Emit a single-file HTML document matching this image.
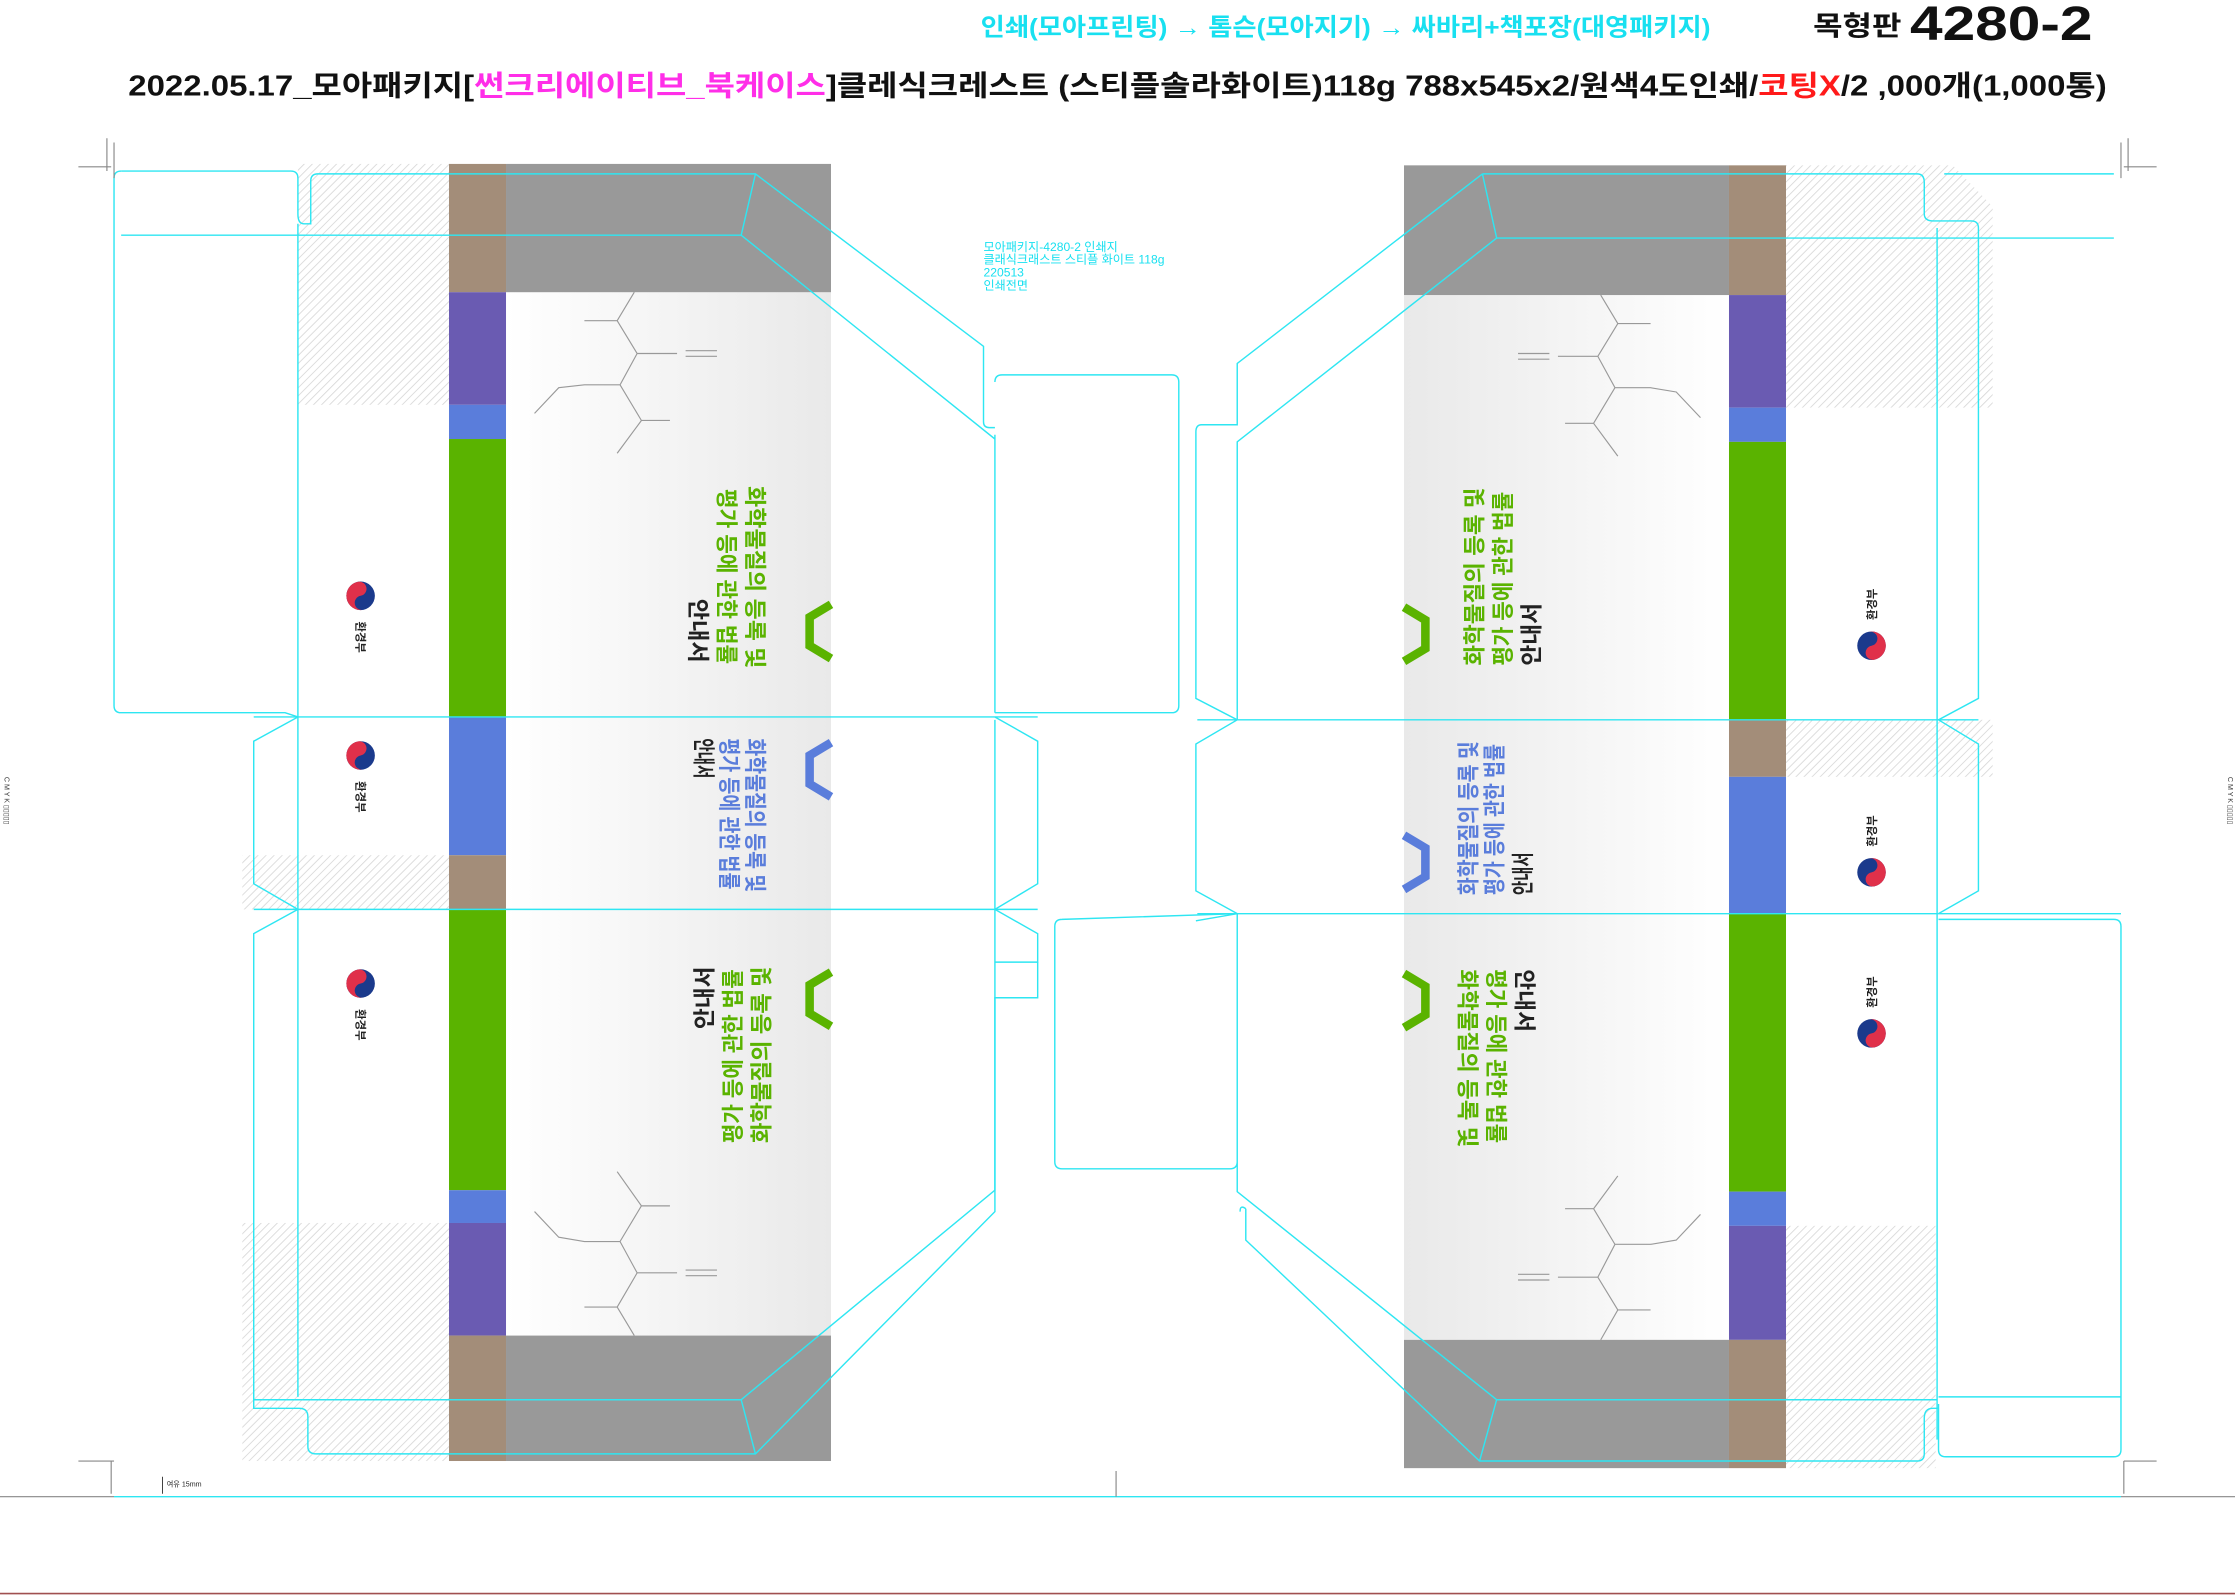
<!DOCTYPE html>
<html><head><meta charset="utf-8"><style>
html,body{margin:0;padding:0;background:#fff;}
svg{display:block;}
text{font-family:"Liberation Sans","Noto Sans CJK KR",sans-serif;}
</style></head><body>
<svg width="2235" height="1596" viewBox="0 0 1568 1119.7" preserveAspectRatio="none" xmlns="http://www.w3.org/2000/svg">
<defs>
<pattern id="h" width="4" height="4" patternUnits="userSpaceOnUse" patternTransform="rotate(45)">
<rect width="4" height="4" fill="#fff"/><line x1="0" y1="0" x2="0" y2="4" stroke="#d8d8d8" stroke-width="1.2"/></pattern>
<linearGradient id="gl" x1="0" x2="1"><stop offset="0" stop-color="#fff"/><stop offset="1" stop-color="#e9e9e9"/></linearGradient>
<linearGradient id="gr" x1="1" x2="0"><stop offset="0" stop-color="#fff"/><stop offset="1" stop-color="#e9e9e9"/></linearGradient>
</defs>
<rect width="1568" height="1120" fill="#fff"/>

<!-- header -->
<text x="688" y="25" font-size="17" font-weight="bold" fill="#18e0f0" textLength="512" lengthAdjust="spacingAndGlyphs">인쇄(모아프린팅) → 톰슨(모아지기) → 싸바리+책포장(대영패키지)</text>
<text x="1272" y="25" font-size="19" font-weight="bold" fill="#111" textLength="62" lengthAdjust="spacingAndGlyphs">목형판</text>
<text x="1340" y="28" font-size="34" font-weight="bold" fill="#111" textLength="128" lengthAdjust="spacingAndGlyphs">4280-2</text>
<text x="90" y="67" font-size="20" font-weight="bold" fill="#111" textLength="1388" lengthAdjust="spacingAndGlyphs">2022.05.17_모아패키지[<tspan fill="#ff2ee8">썬크리에이티브_북케이스</tspan>]클레식크레스트 (스티플솔라화이트)118g 788x545x2/원색4도인쇄/<tspan fill="#ff1a1a">코팅X</tspan>/2 ,000개(1,000통)</text>

<text font-size="8.5" fill="#18e0f0"><tspan x="690" y="176">모아패키지-4280-2      인쇄지</tspan><tspan x="690" y="185">클래식크래스트 스티플 화이트 118g</tspan><tspan x="690" y="194">220513</tspan><tspan x="690" y="203">인쇄전면</tspan></text>

<!-- hatch areas -->
<rect x="209" y="115" width="106" height="169" fill="url(#h)"/>
<rect x="170" y="600" width="145" height="38" fill="url(#h)"/>
<rect x="170" y="858" width="145" height="167" fill="url(#h)"/>
<polygon points="1253,116 1370,116 1398,145 1398,286 1253,286" fill="url(#h)"/>
<rect x="1253" y="505" width="145" height="40" fill="url(#h)"/>
<rect x="1253" y="860" width="105" height="170" fill="url(#h)"/>

<!-- left panel -->
<rect x="355" y="205" width="228" height="732" fill="url(#gl)"/>
<rect x="355" y="115" width="228" height="90" fill="#999"/>
<rect x="355" y="937" width="228" height="88" fill="#999"/>
<rect x="315" y="115" width="40" height="90" fill="#a38d79"/>
<rect x="315" y="205" width="40" height="79" fill="#6a5bb2"/>
<rect x="315" y="284" width="40" height="24" fill="#5a7ddb"/>
<rect x="315" y="308" width="40" height="195" fill="#5ab300"/>
<rect x="315" y="503" width="40" height="97" fill="#5a7ddb"/>
<rect x="315" y="600" width="40" height="38" fill="#a38d79"/>
<rect x="315" y="638" width="40" height="197" fill="#5ab300"/>
<rect x="315" y="835" width="40" height="23" fill="#5a7ddb"/>
<rect x="315" y="858" width="40" height="79" fill="#6a5bb2"/>
<rect x="315" y="937" width="40" height="88" fill="#a38d79"/>

<!-- right panel -->
<rect x="985" y="207" width="228" height="733" fill="url(#gr)"/>
<rect x="985" y="116" width="228" height="91" fill="#999"/>
<rect x="985" y="940" width="228" height="90" fill="#999"/>
<rect x="1213" y="116" width="40" height="91" fill="#a38d79"/>
<rect x="1213" y="207" width="40" height="79" fill="#6a5bb2"/>
<rect x="1213" y="286" width="40" height="24" fill="#5a7ddb"/>
<rect x="1213" y="310" width="40" height="195" fill="#5ab300"/>
<rect x="1213" y="505" width="40" height="40" fill="#a38d79"/>
<rect x="1213" y="545" width="40" height="96" fill="#5a7ddb"/>
<rect x="1213" y="641" width="40" height="195" fill="#5ab300"/>
<rect x="1213" y="836" width="40" height="24" fill="#5a7ddb"/>
<rect x="1213" y="860" width="40" height="80" fill="#6a5bb2"/>
<rect x="1213" y="940" width="40" height="90" fill="#a38d79"/>

<!-- molecules -->
<g stroke="#999" stroke-width="0.8" fill="none">
<path d="M445,205 L433,225 L410,225 M433,225 L447,248 L475,248 M481,246 L503,246 M481,250 L503,250 M447,248 L435,270 L410,270 L392,272 L375,290 M435,270 L450,295 L470,295 M450,295 L433,318"/>
<path d="M445,937 L433,917 L410,917 M433,917 L447,893 L475,893 M481,891 L503,891 M481,895 L503,895 M447,893 L435,871 L410,871 L392,868 L375,850 M435,871 L450,846 L470,846 M450,846 L433,822"/>
<path d="M1123,207 L1135,227 L1158,227 M1135,227 L1121,250 L1093,250 M1087,248 L1065,248 M1087,252 L1065,252 M1121,250 L1133,272 L1158,272 L1176,275 L1193,293 M1133,272 L1118,297 L1098,297 M1118,297 L1135,320"/>
<path d="M1123,940 L1135,919 L1158,919 M1135,919 L1121,896 L1093,896 M1087,894 L1065,894 M1087,898 L1065,898 M1121,896 L1133,873 L1158,873 L1176,870 L1193,852 M1133,873 L1118,848 L1098,848 M1118,848 L1135,825"/>
</g>

<!-- chevrons -->
<g fill="none" stroke-width="6" stroke-linejoin="miter">
<polyline points="583,424 568,433 568,453 583,462" stroke="#5ab300"/>
<polyline points="583,521 568,530 568,550 583,559" stroke="#5a7ddb"/>
<polyline points="583,682 568,691 568,711 583,720" stroke="#5ab300"/>
<polyline points="985,426 1000,435 1000,455 985,464" stroke="#5ab300"/>
<polyline points="985,586 1000,595 1000,615 985,624" stroke="#5a7ddb"/>
<polyline points="985,683 1000,692 1000,712 985,721" stroke="#5ab300"/>
</g>

<!-- titles left -->
<g font-weight="bold" font-size="16">
<text transform="translate(524,341) rotate(90)" fill="#5ab300" textLength="128" lengthAdjust="spacingAndGlyphs">화학물질의 등록 및</text>
<text transform="translate(504,343) rotate(90)" fill="#5ab300" textLength="123" lengthAdjust="spacingAndGlyphs">평가 등에 관한 법률</text>
<text transform="translate(484,420) rotate(90)" fill="#222" textLength="45" lengthAdjust="spacingAndGlyphs">안내서</text>

<text transform="translate(524,518) rotate(90)" fill="#5a7ddb" textLength="108" lengthAdjust="spacingAndGlyphs">화학물질의 등록 및</text>
<text transform="translate(506,518) rotate(90)" fill="#5a7ddb" textLength="106" lengthAdjust="spacingAndGlyphs">평가 등에 관한 법률</text>
<text transform="translate(488,518) rotate(90)" fill="#222" textLength="28" lengthAdjust="spacingAndGlyphs">안내서</text>

<text transform="translate(540,802) rotate(-90)" fill="#5ab300" textLength="124" lengthAdjust="spacingAndGlyphs">화학물질의 등록 및</text>
<text transform="translate(520,802) rotate(-90)" fill="#5ab300" textLength="122" lengthAdjust="spacingAndGlyphs">평가 등에 관한 법률</text>
<text transform="translate(500,722) rotate(-90)" fill="#222" textLength="44" lengthAdjust="spacingAndGlyphs">안내서</text>

<!-- titles right -->
<text transform="translate(1040,467) rotate(-90)" fill="#5ab300" textLength="125" lengthAdjust="spacingAndGlyphs">화학물질의 등록 및</text>
<text transform="translate(1060,467) rotate(-90)" fill="#5ab300" textLength="122" lengthAdjust="spacingAndGlyphs">평가 등에 관한 법률</text>
<text transform="translate(1080,467) rotate(-90)" fill="#222" textLength="44" lengthAdjust="spacingAndGlyphs">안내서</text>

<text transform="translate(1036,628) rotate(-90)" fill="#5a7ddb" textLength="108" lengthAdjust="spacingAndGlyphs">화학물질의 등록 및</text>
<text transform="translate(1054,628) rotate(-90)" fill="#5a7ddb" textLength="106" lengthAdjust="spacingAndGlyphs">평가 등에 관한 법률</text>
<text transform="translate(1074,628) rotate(-90)" fill="#222" textLength="30" lengthAdjust="spacingAndGlyphs">안내서</text>

<text transform="translate(1024,680) rotate(90)" fill="#5ab300" textLength="125" lengthAdjust="spacingAndGlyphs">화학물질의 등록 및</text>
<text transform="translate(1044,680) rotate(90)" fill="#5ab300" textLength="122" lengthAdjust="spacingAndGlyphs">평가 등에 관한 법률</text>
<text transform="translate(1064,680) rotate(90)" fill="#222" textLength="44" lengthAdjust="spacingAndGlyphs">안내서</text>
</g>

<!-- logos -->
<g>
<g transform="translate(253,418)"><circle r="10" fill="#1b3a8c"/><path d="M-10,0 A10,10 0 0 1 10,0 A5,5 0 0 1 0,0 A5,5 0 0 0 -10,0Z" fill="#e0304a" transform="rotate(-100)"/><circle r="4" cx="0" cy="0" fill="#fff" opacity="0.0"/></g>
<g transform="translate(253,530)"><circle r="10" fill="#1b3a8c"/><path d="M-10,0 A10,10 0 0 1 10,0 A5,5 0 0 1 0,0 A5,5 0 0 0 -10,0Z" fill="#e0304a" transform="rotate(-100)"/></g>
<g transform="translate(253,690)"><circle r="10" fill="#1b3a8c"/><path d="M-10,0 A10,10 0 0 1 10,0 A5,5 0 0 1 0,0 A5,5 0 0 0 -10,0Z" fill="#e0304a" transform="rotate(-100)"/></g>
<g transform="translate(1313,453)"><circle r="10" fill="#1b3a8c"/><path d="M-10,0 A10,10 0 0 1 10,0 A5,5 0 0 1 0,0 A5,5 0 0 0 -10,0Z" fill="#e0304a" transform="rotate(80)"/></g>
<g transform="translate(1313,612)"><circle r="10" fill="#1b3a8c"/><path d="M-10,0 A10,10 0 0 1 10,0 A5,5 0 0 1 0,0 A5,5 0 0 0 -10,0Z" fill="#e0304a" transform="rotate(80)"/></g>
<g transform="translate(1313,725)"><circle r="10" fill="#1b3a8c"/><path d="M-10,0 A10,10 0 0 1 10,0 A5,5 0 0 1 0,0 A5,5 0 0 0 -10,0Z" fill="#e0304a" transform="rotate(80)"/></g>
<g font-size="8" font-weight="bold" fill="#222">
<text transform="translate(250,436) rotate(90)">환경부</text>
<text transform="translate(250,548) rotate(90)">환경부</text>
<text transform="translate(250,708) rotate(90)">환경부</text>
<text transform="translate(1316,435) rotate(-90)">환경부</text>
<text transform="translate(1316,594) rotate(-90)">환경부</text>
<text transform="translate(1316,707) rotate(-90)">환경부</text>
</g>
</g>

<!-- cut lines -->
<g fill="none" stroke="#2ee6f2" stroke-width="1">
<!-- left -->
<path d="M209,165 L85,165 M85,120 L204,120 Q209,120 209,125 L209,150 Q209,157 213,157 L218,157 L218,127 Q218,122 223,122 L530,122 L690,243 L690,296 Q690,300 694,300 L698,300"/>
<path d="M80,125 Q80,120 85,120 M80,125 L80,495 Q80,500 85,500 L200,500 L209,503"/>
<path d="M209,165 L520,165 L698,308 L698,500 M698,308 L698,305"/>
<path d="M698,268 Q698,263 703,263 L822,263 Q827,263 827,268 L827,495 Q827,500 822,500 L698,500"/>
<path d="M520,165 L530,122"/>
<path d="M209,157 L209,980"/>
<path d="M178,503 L728,503 M178,638 L728,638"/>
<path d="M209,503 L178,520 L178,620 L209,638 L178,655 L178,982 L520,982 L698,835 L698,505 M698,503 L728,520 L728,620 L698,638 L728,655 L728,675 L698,675 L698,835"/>
<path d="M178,982 L178,988 L210,988 Q216,988 216,994 L216,1015 Q216,1020 222,1020 L530,1020 L698,850 L698,700 L728,700 L728,675"/>
<path d="M520,982 L530,1020"/>
<!-- right -->
<path d="M1359,167 L1483,167 M1483,122 L1364,122"/>
<path d="M1040,122 L1345,122 Q1350,122 1350,128 L1350,150 Q1350,155 1356,155 L1383,155 Q1388,155 1388,160 L1388,490 L1360,505 L1388,522 L1388,625 L1360,641"/>
<path d="M1359,160 L1359,1010"/>
<path d="M1040,122 L868,255 L868,298 L843,298 Q839,298 839,303 L839,490 L868,505 L839,522 L839,625 L868,641 L839,646"/>
<path d="M1050,167 L1359,167 M1050,167 L868,310 L868,505 M1050,167 L1040,122"/>
<path d="M840,505 L1388,505 M840,641 L1488,641"/>
<path d="M868,641 L868,836 L1050,982 L1359,982 M868,641 L745,645 Q740,645 740,650 L740,815 Q740,820 745,820 L863,820 Q868,820 868,815 M874,848 L874,870 L1038,1025 L1345,1025 Q1350,1025 1350,1020 L1350,995 Q1350,988 1356,988 L1360,988 M874,848 Q870,845 870,850"/>
<path d="M1050,982 L1038,1025"/>
<path d="M1360,645 L1483,645 Q1488,645 1488,650 L1488,1017 Q1488,1022 1483,1022 L1365,1022 Q1360,1022 1360,1017 L1360,985 M1360,980 L1488,980"/>
<!-- bottom -->
<path d="M80,1050 L1488,1050"/>
</g>

<!-- crop marks etc -->
<g stroke="#888" stroke-width="0.8" fill="none">
<path d="M55,117 L78,117 M75,97 L75,120 M80,100 L80,125"/>
<path d="M1490,117 L1513,117 M1493,97 L1493,120 M1488,100 L1488,125"/>
<path d="M55,1025 L80,1025 M78,1025 L78,1048"/>
<path d="M1490,1025 L1513,1025 M1490,1025 L1490,1048"/>
<path d="M783,1032 L783,1050"/>
<path d="M0,1050 L80,1050 M1488,1050 L1568,1050"/>
</g>
<line x1="0" y1="1118" x2="1568" y2="1118" stroke="#a05050" stroke-width="1.2"/>
<text x="117" y="1043" font-size="5" fill="#222">여유 15mm</text>
<line x1="114" y1="1036" x2="114" y2="1048" stroke="#222" stroke-width="0.6"/>
<g font-size="5" fill="#333"><text transform="translate(3,545) rotate(90)">C M Y K ▯▯▯▯▯</text><text transform="translate(1563,545) rotate(90)">C M Y K ▯▯▯▯▯</text></g>
</svg>
</body></html>
